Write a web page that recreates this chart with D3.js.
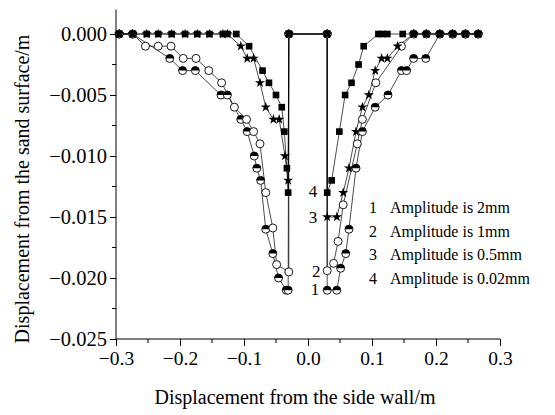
<!DOCTYPE html>
<html>
<head>
<meta charset="utf-8">
<script src="https://cdn.jsdelivr.net/npm/d3@7"></script>
<style>
  body { margin: 0; background: #fff; }
  svg text { font-family: "Liberation Serif", "Times New Roman", serif; fill: #000; }
</style>
</head>
<body>
<div id="chart"></div>
<script>
var width = 555;
var height = 415;

// settlement profiles across the box, one per shaking amplitude
var amp2X = [-0.295, -0.274, -0.216, -0.196, -0.176, -0.136, -0.126, -0.105, -0.095, -0.084, -0.080, -0.074, -0.066, -0.055, -0.046, -0.034, -0.031, -0.030,
             0.030, 0.030, 0.045, 0.051, 0.059, 0.064, 0.075, 0.085, 0.105, 0.125, 0.146, 0.154, 0.165, 0.184, 0.206, 0.226, 0.246, 0.266];
var amp2Y = [0, 0, -0.002, -0.003, -0.003, -0.005, -0.005, -0.007, -0.008, -0.010, -0.011, -0.012, -0.016, -0.018, -0.020, -0.021, -0.021, 0,
             0, -0.021, -0.021, -0.0192, -0.018, -0.016, -0.011, -0.008, -0.006, -0.005, -0.003, -0.003, -0.002, -0.002, 0, 0, 0, 0];

var amp1X = [-0.295, -0.274, -0.254, -0.234, -0.214, -0.195, -0.175, -0.155, -0.135, -0.115, -0.096, -0.085, -0.075, -0.066, -0.055, -0.049, -0.030, -0.030,
             0.030, 0.030, 0.040, 0.047, 0.055, 0.077, 0.085, 0.106, 0.146, 0.165, 0.185, 0.206, 0.226, 0.246, 0.266];
var amp1Y = [0, 0, -0.001, -0.001, -0.001, -0.002, -0.002, -0.003, -0.004, -0.006, -0.007, -0.008, -0.009, -0.013, -0.0159, -0.0189, -0.0195, 0,
             0, -0.0194, -0.0188, -0.017, -0.014, -0.009, -0.007, -0.004, -0.001, 0, 0, 0, 0, 0, 0];

var amp05X = [-0.295, -0.274, -0.252, -0.234, -0.213, -0.192, -0.173, -0.154, -0.133, -0.126, -0.105, -0.095, -0.085, -0.075, -0.066, -0.054, -0.045, -0.036, -0.031, -0.030,
              0.030, 0.030, 0.045, 0.055, 0.064, 0.075, 0.085, 0.095, 0.105, 0.115, 0.124, 0.140, 0.165, 0.185, 0.206, 0.226, 0.246, 0.266];
var amp05Y = [0, 0, 0, 0, 0, 0, 0, 0, 0, 0, -0.001, -0.002, -0.002, -0.004, -0.006, -0.007, -0.007, -0.010, -0.012, 0,
              0, -0.015, -0.015, -0.013, -0.011, -0.008, -0.006, -0.005, -0.003, -0.002, -0.002, -0.001, 0, 0, 0, 0, 0, 0];

var amp002X = [-0.295, -0.274, -0.252, -0.234, -0.213, -0.192, -0.173, -0.154, -0.133, -0.126, -0.112, -0.092, -0.071, -0.061, -0.050, -0.041, -0.037, -0.033, -0.031, -0.030,
               0.030, 0.030, 0.037, 0.049, 0.058, 0.068, 0.079, 0.087, 0.110, 0.117, 0.124, 0.148, 0.165, 0.185, 0.206, 0.226, 0.246, 0.266];
var amp002Y = [0, 0, 0, 0, 0, 0, 0, 0, 0, 0, 0, -0.001, -0.003, -0.004, -0.005, -0.006, -0.008, -0.011, -0.013, 0,
               0, -0.013, -0.012, -0.008, -0.005, -0.004, -0.0025, -0.001, 0, 0, 0, 0, 0, 0, 0, 0, 0, 0];

var xTicks = [-0.3, -0.2, -0.1, 0.0, 0.1, 0.2, 0.3];
var yTicks = [0, -0.005, -0.010, -0.015, -0.020, -0.025];
var legendLabels = ["Amplitude is 2mm", "Amplitude is 1mm", "Amplitude is 0.5mm", "Amplitude is 0.02mm"];
var curveLabels = ["1", "2", "3", "4"];
var curveLabelAt = [[0.011, -0.0209], [0.013, -0.0194], [0.008, -0.015], [0.008, -0.0129]];

var series = [
  { xs: amp2X, ys: amp2Y, mark: "half" },
  { xs: amp1X, ys: amp1Y, mark: "open" },
  { xs: amp05X, ys: amp05Y, mark: "star" },
  { xs: amp002X, ys: amp002Y, mark: "square" }
];

var serif = "'Liberation Serif', 'Times New Roman', serif";

var svg = d3.select("#chart").append("svg")
    .attr("width", width)
    .attr("height", height);

var x = d3.scaleLinear().domain([-0.3, 0.3]).range([116, 500]);
var y = d3.scaleLinear().domain([-0.025, 0.002]).range([339, 9.6]);

// axes
var xAxis = d3.axisBottom(x).tickValues(xTicks).tickSize(7).tickPadding(5)
    .tickFormat(function(d) { return d3.format(".1f")(d).replace("-", "\u2212"); });
var gx = svg.append("g").attr("transform", "translate(0,339)").call(xAxis)
    .attr("font-family", serif).attr("font-size", 19.5);
gx.select(".domain").attr("d", "M116,0H500");

var xMinor = d3.range(-0.25, 0.3, 0.1);
gx.selectAll(".minor").data(xMinor).enter().append("line")
    .attr("x1", function(d) { return x(d); }).attr("x2", function(d) { return x(d); })
    .attr("y1", 0).attr("y2", 4).attr("stroke", "#000");

var yAxis = d3.axisLeft(y).tickValues(yTicks).tickSize(6).tickPadding(3)
    .tickFormat(function(d) { return d3.format(".3f")(d).replace("-", "\u2212"); });
var gy = svg.append("g").attr("transform", "translate(116,0)").call(yAxis)
    .attr("font-family", serif).attr("font-size", 20.5);
gy.select(".domain").attr("d", "M0,339V9.6");

var yMinor = [-0.0025, -0.0075, -0.0125, -0.0175, -0.0225];
gy.selectAll(".minor").data(yMinor).enter().append("line")
    .attr("y1", function(d) { return y(d); }).attr("y2", function(d) { return y(d); })
    .attr("x1", 0).attr("x2", -4).attr("stroke", "#000");

svg.selectAll(".tick line, .domain").attr("stroke", "#000");

svg.append("text")
    .attr("x", 295).attr("y", 404)
    .attr("text-anchor", "middle")
    .attr("font-size", "20px")
    .text("Displacement from the side wall/m");

svg.append("text")
    .attr("transform", "translate(29,189) rotate(-90)")
    .attr("text-anchor", "middle")
    .attr("font-size", "20px")
    .text("Displacement from the sand surface/m");

// curves
var line = d3.line()
    .x(function(d) { return x(d[0]); })
    .y(function(d) { return y(d[1]); });

series.forEach(function(s) {
    s.pts = s.xs.map(function(v, i) { return [v, s.ys[i]]; });
    svg.append("path")
        .datum(s.pts)
        .attr("fill", "none")
        .attr("stroke", "#000")
        .attr("stroke-width", 0.7)
        .attr("d", line);
});

var starPath = d3.symbol().type(d3.symbolStar).size(32)();
var squarePath = d3.symbol().type(d3.symbolSquare).size(44)();
var topHalf = d3.arc()({ innerRadius: 0, outerRadius: 4, startAngle: -Math.PI / 2, endAngle: Math.PI / 2 });

series.forEach(function(s) {
    var g = svg.append("g").selectAll("g")
        .data(s.pts)
        .enter().append("g")
        .attr("transform", function(d) { return "translate(" + x(d[0]) + "," + y(d[1]) + ")"; });

    if (s.mark == "half") {
        g.append("circle").attr("r", 4).attr("fill", "#fff").attr("stroke", "#000").attr("stroke-width", 0.9);
        g.append("path").attr("d", topHalf).attr("fill", "#000");
    } else if (s.mark == "open") {
        g.append("circle").attr("r", 4).attr("fill", "#fff").attr("stroke", "#000").attr("stroke-width", 0.9);
    } else if (s.mark == "star") {
        g.append("path").attr("d", starPath).attr("fill", "#000");
    } else {
        g.append("path").attr("d", squarePath).attr("fill", "#000");
    }
});

// curve numbers beside the wall
svg.selectAll(".curveLabel")
    .data(curveLabels)
    .enter().append("text")
    .attr("x", function(d, i) { return x(curveLabelAt[i][0]); })
    .attr("y", function(d, i) { return y(curveLabelAt[i][1]); })
    .attr("dy", "0.35em")
    .attr("text-anchor", "middle")
    .attr("font-size", "17px")
    .text(function(d) { return d; });

// legend
var legend = svg.append("g").selectAll("g")
    .data(legendLabels)
    .enter().append("g")
    .attr("transform", function(d, i) { return "translate(369," + (207.7 + i * 23.5) + ")"; });

legend.append("text")
    .attr("dy", "0.35em")
    .attr("font-size", "16px")
    .text(function(d, i) { return curveLabels[i]; });

legend.append("text")
    .attr("x", 21)
    .attr("dy", "0.35em")
    .attr("font-size", "16px")
    .text(function(d) { return d; });
</script>
</body>
</html>
